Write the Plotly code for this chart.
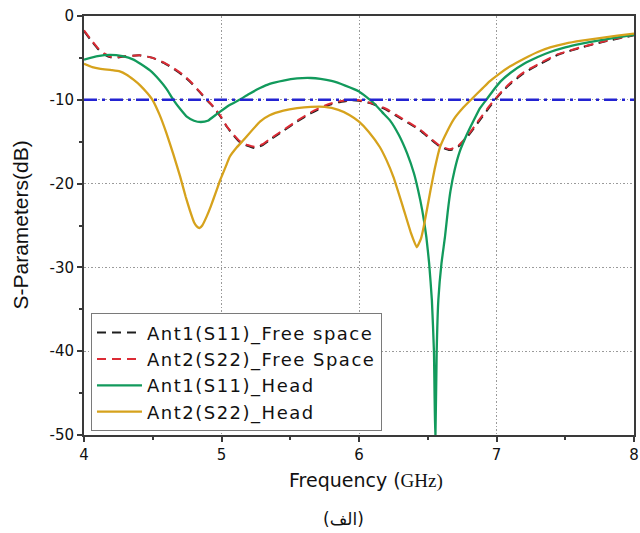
import plotly.graph_objects as go

# ---------------- data ----------------
f_ant1_free = [4.0, 4.05, 4.1, 4.15, 4.2, 4.25, 4.3, 4.41, 4.5, 4.58, 4.65, 4.72, 4.78, 4.84, 4.89,
               4.94, 5.0, 5.04, 5.09, 5.13, 5.19, 5.24, 5.3, 5.35, 5.45, 5.55, 5.65, 5.75, 5.85,
               5.95, 6.0, 6.1, 6.2, 6.3, 6.44, 6.52, 6.59, 6.66, 6.72, 6.78, 6.86, 6.95, 7.0,
               7.05, 7.1, 7.2, 7.32, 7.45, 7.63, 7.8, 8.0]
s_ant1_free = [-1.8, -2.9, -3.9, -4.6, -4.95, -4.95, -4.8, -4.7, -5.0, -5.6, -6.3, -7.1, -8.0, -9.06, -10.0,
               -10.86, -12.2, -13.25, -14.3, -15.0, -15.5, -15.75, -15.4, -14.8, -13.7, -12.6, -11.6, -10.8, -10.3,
               -10.05, -10.1, -10.5, -11.2, -12.2, -13.6, -14.7, -15.6, -16.0, -15.6, -14.6, -12.85, -10.86, -9.8,
               -8.9, -8.1, -6.8, -5.7, -4.6, -3.7, -3.0, -2.3]

f_ant2_free = [4.0, 4.05, 4.1, 4.15, 4.2, 4.25, 4.3, 4.41, 4.5, 4.58, 4.65, 4.72, 4.78, 4.84, 4.89,
               4.94, 5.0, 5.04, 5.09, 5.13, 5.19, 5.24, 5.3, 5.35, 5.45, 5.55, 5.65, 5.75, 5.85,
               5.95, 6.0, 6.1, 6.2, 6.3, 6.44, 6.52, 6.59, 6.66, 6.72, 6.78, 6.86, 6.95, 7.0,
               7.05, 7.1, 7.2, 7.32, 7.45, 7.63, 7.8, 8.0]
s_ant2_free = [-1.7, -2.8, -3.8, -4.5, -4.9, -4.9, -4.8, -4.7, -5.0, -5.55, -6.2, -7.0, -7.9, -9.0, -9.9,
               -10.8, -12.1, -13.2, -14.2, -14.9, -15.4, -15.6, -15.3, -14.7, -13.6, -12.5, -11.5, -10.7, -10.2,
               -10.0, -10.05, -10.45, -11.1, -12.1, -13.5, -14.6, -15.5, -15.9, -15.5, -14.5, -12.7, -10.7, -9.7,
               -8.8, -8.0, -6.7, -5.6, -4.55, -3.65, -2.95, -2.25]

f_ant1_head = [4.0, 4.1, 4.19, 4.28, 4.36, 4.41, 4.48, 4.55, 4.6, 4.65, 4.7, 4.75, 4.8, 4.85, 4.9,
               4.97, 5.05, 5.13, 5.2, 5.28, 5.35, 5.45, 5.55, 5.65, 5.72, 5.8, 5.9, 6.0, 6.1,
               6.17, 6.225, 6.29, 6.35, 6.4, 6.43, 6.46, 6.49, 6.51, 6.53, 6.545, 6.555, 6.565,
               6.577, 6.6, 6.625, 6.645, 6.665, 6.695, 6.73, 6.78, 6.83, 6.88, 6.93, 6.98, 7.03, 7.1,
               7.2, 7.3, 7.39, 7.5, 7.62, 7.75, 7.88, 8.0]
s_ant1_head = [-5.2, -4.8, -4.65, -4.8, -5.2, -5.7, -6.5, -7.67, -8.7, -10.0, -11.1, -12.05, -12.5, -12.65, -12.5,
               -11.65, -10.7, -10.0, -9.3, -8.6, -8.1, -7.7, -7.45, -7.4, -7.5, -7.75, -8.3, -9.0, -10.26,
               -11.5, -12.45, -14.2, -16.4, -18.8, -20.8, -23.2, -26.4, -29.5, -33.9, -40.0, -51.0, -40.0,
               -33.9, -29.5, -26.4, -23.4, -20.9, -18.4, -16.3, -14.3, -12.6, -11.0, -9.9, -8.8, -7.8, -6.8,
               -5.7, -4.9, -4.3, -3.75, -3.3, -2.9, -2.55, -2.25]

f_ant2_head = [4.0, 4.06, 4.12, 4.2, 4.26, 4.31, 4.36, 4.41, 4.46, 4.5, 4.55, 4.6, 4.65, 4.7, 4.74,
               4.77, 4.8, 4.82, 4.84, 4.86, 4.89, 4.92, 4.96, 4.99, 5.03, 5.06, 5.11, 5.16, 5.28, 5.35, 5.45,
               5.55, 5.65, 5.75, 5.85, 5.93, 6.0, 6.07, 6.15, 6.2, 6.25, 6.32, 6.38, 6.42, 6.45,
               6.47, 6.52, 6.55, 6.59, 6.64, 6.69, 6.76, 6.82, 6.9, 6.95, 7.02, 7.1, 7.2, 7.3,
               7.39, 7.5, 7.62, 7.75, 7.88, 8.0]
s_ant2_head = [-5.7, -6.1, -6.3, -6.45, -6.6, -7.0, -7.6, -8.3, -9.2, -10.06, -11.8, -14.0, -16.5, -19.2, -21.6,
               -23.2, -24.6, -25.1, -25.3, -25.0, -24.0, -22.8, -21.0, -19.6, -18.0, -16.8, -15.7, -14.8, -12.6, -11.85, -11.3,
               -11.0, -10.85, -10.85, -11.2, -11.8, -12.6, -13.8, -15.6, -17.2, -19.2, -22.8, -26.0, -27.6, -26.6,
               -25.2, -20.8, -18.3, -15.6, -13.8, -12.3, -10.9, -9.9, -8.6, -7.8, -6.9, -6.0, -5.1, -4.3,
               -3.75, -3.3, -2.95, -2.65, -2.35, -2.1]

threshold_f = [4.0, 8.0]
threshold_db = [-10, -10]

x_ticks = [4, 5, 6, 7, 8]
y_ticks = [0, -10, -20, -30, -40, -50]

names = ["Ant1(S11)_Free space", "Ant2(S22)_Free Space", "Ant1(S11)_Head", "Ant2(S22)_Head"]

# ---------------- figure ----------------
LS = "letter-spacing:1.5px"


def lbl(t):
    return '<span style="%s">%s</span>' % (LS, t)


fig = go.Figure()
fig.add_trace(go.Scatter(x=f_ant1_free, y=s_ant1_free, mode="lines", name=lbl(names[0]),
                         line=dict(color="#1e1e1e", width=2, dash="9px,6px", shape="spline", smoothing=0.5)))
fig.add_trace(go.Scatter(x=f_ant2_free, y=s_ant2_free, mode="lines", name=lbl(names[1]),
                         line=dict(color="#dc2b35", width=2, dash="9px,6px", shape="spline", smoothing=0.5)))
fig.add_trace(go.Scatter(x=f_ant1_head, y=s_ant1_head, mode="lines", name=lbl(names[2]),
                         line=dict(color="#129a5c", width=2.3, shape="spline", smoothing=0.4)))
fig.add_trace(go.Scatter(x=f_ant2_head, y=s_ant2_head, mode="lines", name=lbl(names[3]),
                         line=dict(color="#d6a21c", width=2.3, shape="spline", smoothing=0.4)))
fig.add_trace(go.Scatter(x=threshold_f, y=threshold_db, mode="lines", showlegend=False,
                         line=dict(color="#2323d2", width=2.5, dash="13px,5px,3px,5px")))

tickfont = dict(family="DejaVu Sans", size=15, color="#111")
axis_common = dict(showline=True, linecolor="#3a3a3a", linewidth=2, mirror=True,
                   ticks="outside", ticklen=5, tickwidth=1.5, tickcolor="#3a3a3a",
                   showgrid=True, gridcolor="#9a9a9a", gridwidth=1.2, griddash="1.5px,2px",
                   zeroline=False, tickfont=tickfont, automargin=False)

fig.update_xaxes(range=[4, 8], tickvals=x_ticks, ticktext=[str(v) for v in x_ticks],
                 minor=dict(dtick=0.5, ticklen=3, tickcolor="#3a3a3a", showgrid=False, ticks="outside"),
                 **axis_common)
fig.update_yaxes(range=[-50, 0], tickvals=y_ticks, ticktext=[str(v) for v in y_ticks],
                 minor=dict(dtick=5, ticklen=3, tickcolor="#3a3a3a", showgrid=False, ticks="outside"),
                 **axis_common)

fig.update_layout(
    width=640, height=533,
    margin=dict(l=84, r=6, t=16, b=98),
    plot_bgcolor="white", paper_bgcolor="white",
    legend=dict(x=0.0127, y=0.2905, xanchor="left", yanchor="top",
                bgcolor="white", bordercolor="#7a7a7a", borderwidth=1,
                font=dict(family="DejaVu Sans", size=18, color="#111"),
                itemwidth=45, tracegroupgap=0),
    annotations=[
        dict(text="S-Parameters(dB)", xref="paper", yref="paper", x=(20 - 84) / 550, y=0.5,
             textangle=-90, showarrow=False, xanchor="center", yanchor="middle",
             font=dict(family="Liberation Sans", size=21, color="#111")),
        dict(text='Frequency (<span style="font-family:Liberation Serif,serif">GHz)</span>',
             xref="paper", yref="paper", x=(366 - 84) / 550, y=-(480 - 434.7) / 419,
             showarrow=False, xanchor="center", yanchor="middle",
             font=dict(family="DejaVu Sans", size=19, color="#111")),
        dict(text="(الف)", xref="paper", yref="paper", x=(343 - 84) / 550, y=-(519 - 434.7) / 419,
             showarrow=False, xanchor="center", yanchor="middle",
             font=dict(family="DejaVu Sans", size=17, color="#111")),
    ],
)

fig.write_html("out.html")
